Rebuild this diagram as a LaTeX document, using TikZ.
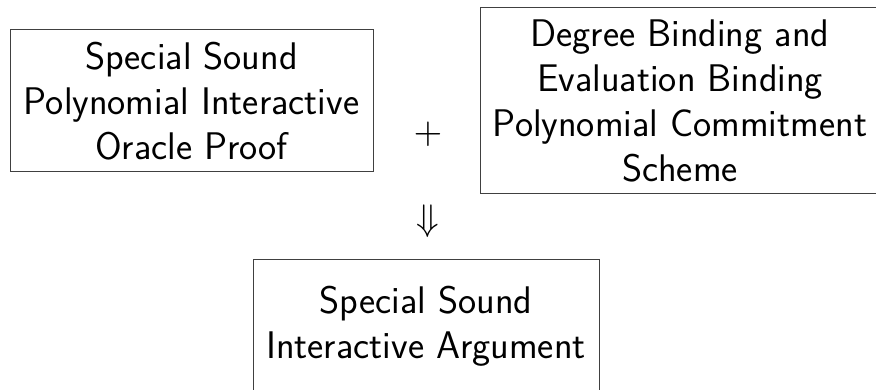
\documentclass[tikz,border=0pt]{standalone}
\begin{document}
\begin{tikzpicture}[x=1pt,y=-1pt,
  boxnode/.style={draw=black!75, line width=1pt, inner sep=0pt, align=center,
    font=\sffamily\fontsize{38.5}{45}\selectfont},
  symnode/.style={inner sep=0pt, font=\normalsize}]
\useasboundingbox (0,0) rectangle (876,390);
\clip (0,0) rectangle (876,390);
\node[boxnode, minimum width=363pt, minimum height=142pt] (ssp) at (191.5,101)
  {Special Sound\\Polynomial Interactive\\Oracle Proof};
\node[boxnode, minimum width=400pt, minimum height=186pt] (pcs) at (680,101)
  {Degree Binding and\\Evaluation Binding\\Polynomial Commitment\\Scheme};
\node[symnode] (plus) at (428,134) {\scalebox{3.7}{$+$}};
\node[symnode] (impl) at (428,221) {\scalebox{3.7}{$\Downarrow$}};
\node[boxnode, minimum width=346pt, minimum height=132pt] (arg) at (426,326)
  {Special Sound\\Interactive Argument};
\end{tikzpicture}
\end{document}
